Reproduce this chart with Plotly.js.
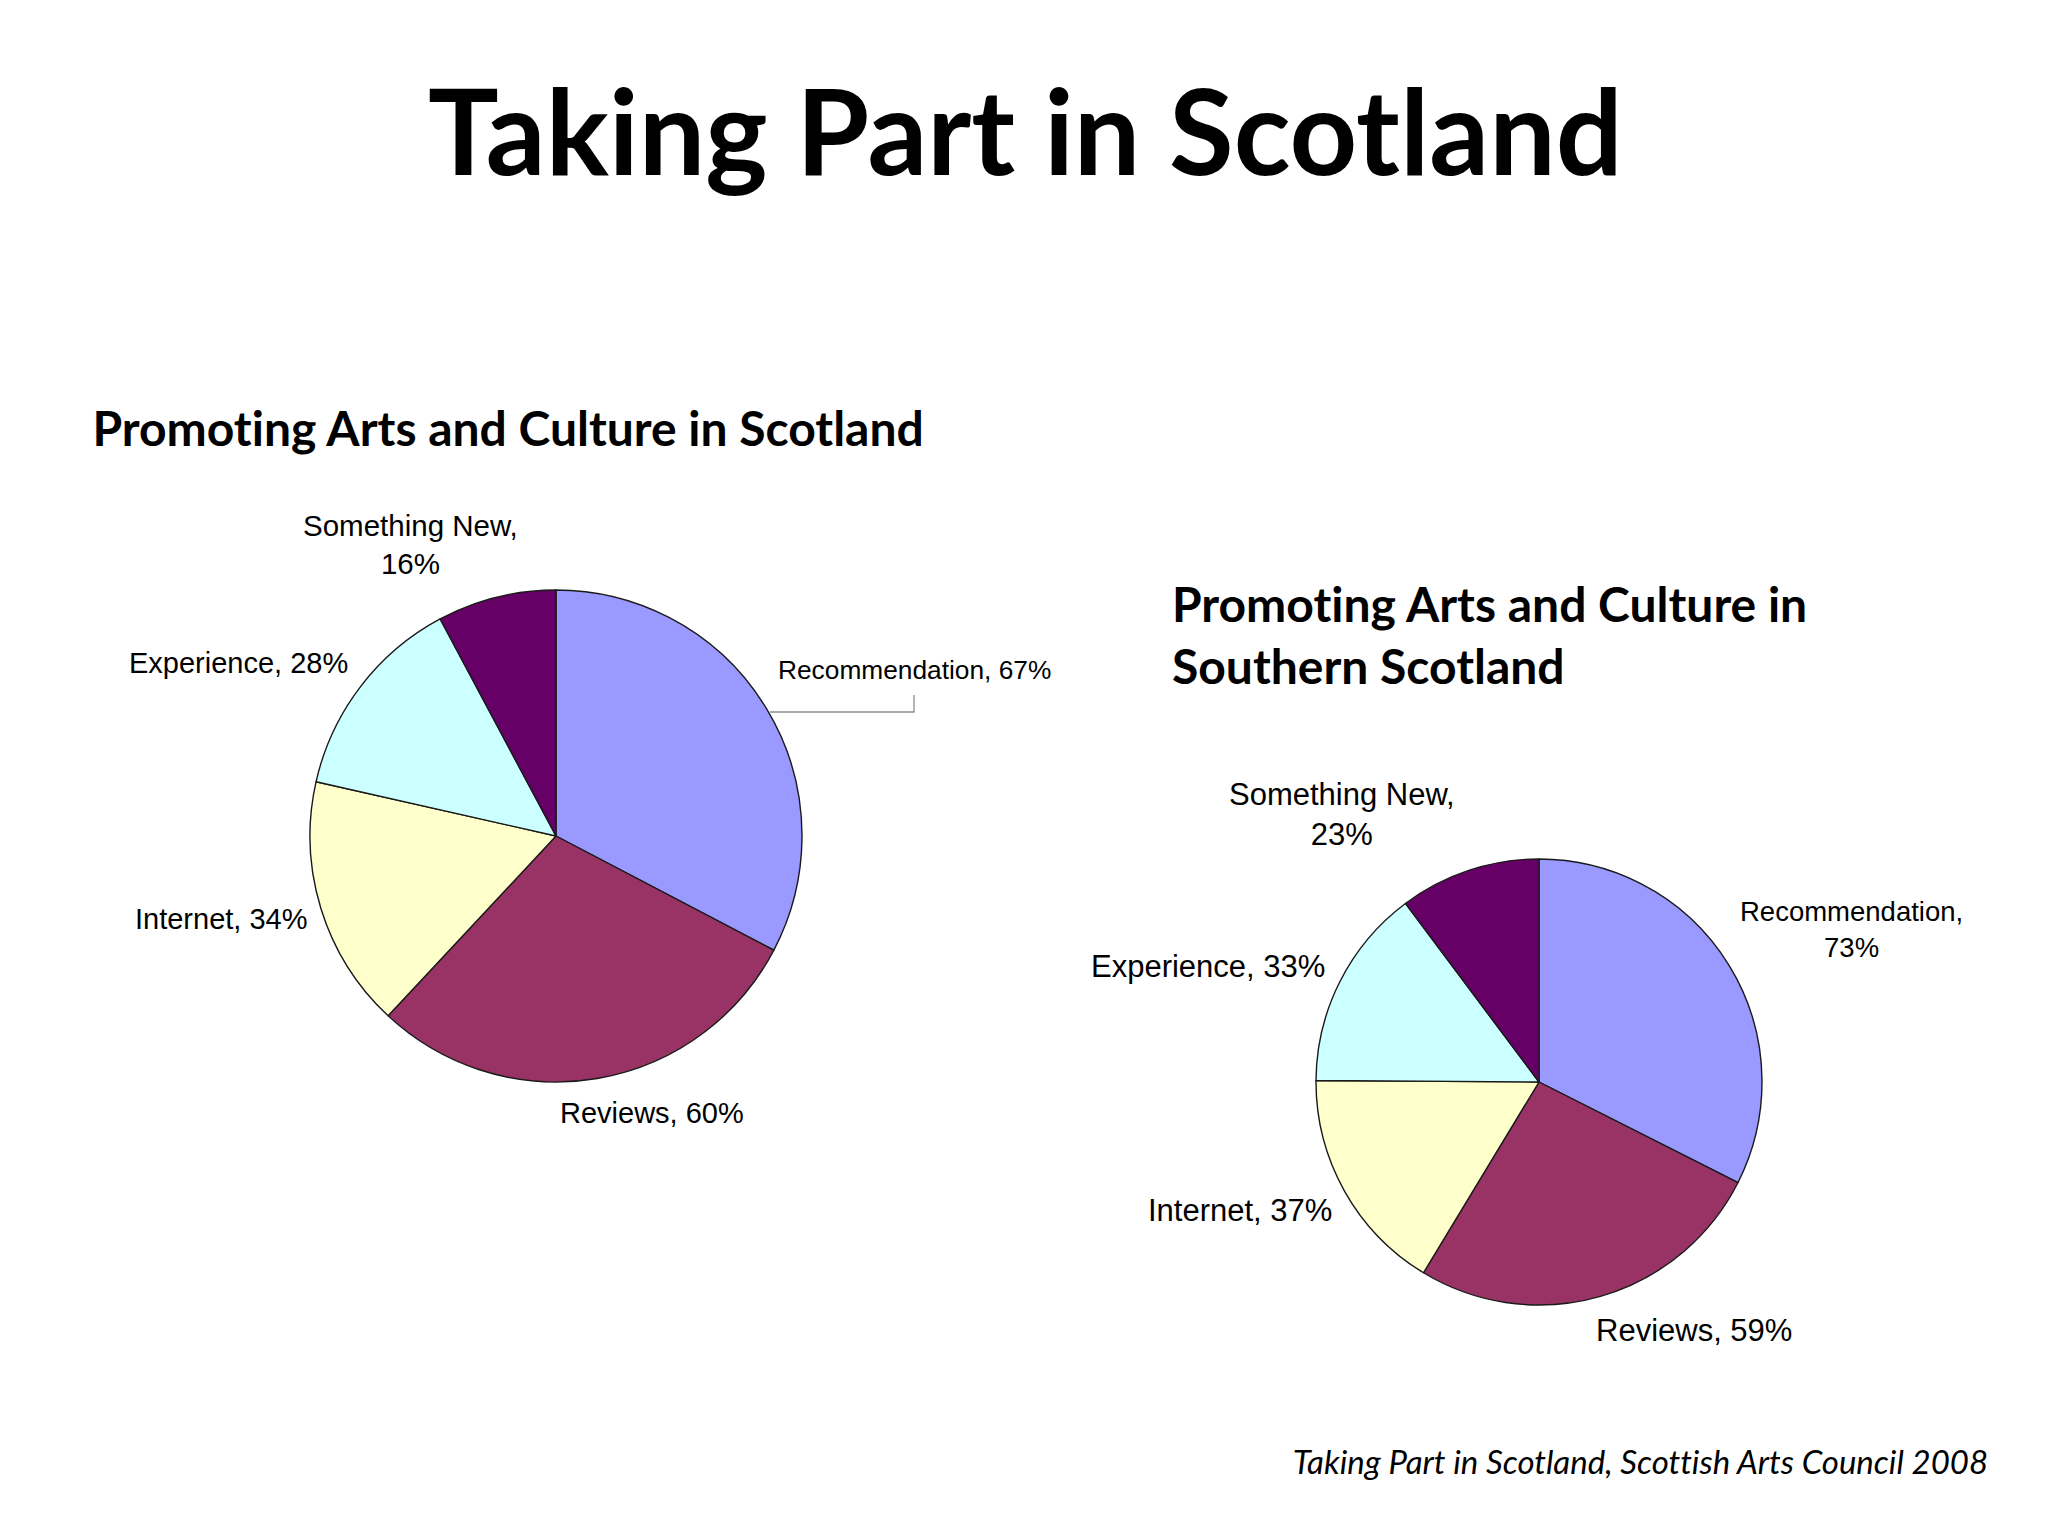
<!DOCTYPE html>
<html>
<head>
<meta charset="utf-8">
<script src="https://cdn.plot.ly/plotly-3.0.1.min.js"></script>
<style>
    html, body { margin: 0; padding: 0; background: #ffffff; }
    #chart { width: 2048px; height: 1536px; }
    #chart svg text, #chart svg tspan {
        font-variant-ligatures: none !important;
        font-feature-settings: "liga" 0, "clig" 0 !important;
    }
</style>
</head>
<body>
<div id="chart"></div>
<script>
const categories = ['Recommendation', 'Reviews', 'Internet', 'Experience', 'Something New'];
const scotlandValues = [67, 60, 34, 28, 16];
const southernValues = [73, 59, 37, 33, 23];
const sliceColors = ['#9999FF', '#993366', '#FFFFCC', '#CCFFFF', '#660066'];

const W = 2048;
const H = 1536;
const px = (x) => x / W;
const py = (y) => 1 - y / H;

// label placement in page pixels: [x, y, anchor, wrap after comma, font size]
const scotlandLabelPos = [
    [914, 670, 'center', false, 26.3],
    [652, 1113, 'center', false, 29],
    [221, 919, 'center', false, 29],
    [238, 663, 'center', false, 29],
    [410, 544, 'center', true, 29.5]
];
const southernLabelPos = [
    [1851, 929, 'center', true, 27.5],
    [1694, 1330, 'center', false, 31],
    [1240, 1210, 'center', false, 31],
    [1208, 966, 'center', false, 31],
    [1342, 814, 'center', true, 31]
];

function pieTrace(values, cx, cy, r) {
    return {
        type: 'pie',
        labels: categories,
        values: values,
        sort: false,
        direction: 'clockwise',
        rotation: 0,
        textinfo: 'none',
        hoverinfo: 'skip',
        showlegend: false,
        marker: {
            colors: sliceColors,
            line: { color: '#1a1a1a', width: 1.4 }
        },
        domain: {
            x: [px(cx - r), px(cx + r)],
            y: [py(cy + r), py(cy - r)]
        }
    };
}

function sliceLabels(values, positions) {
    return values.map((v, i) => {
        const p = positions[i];
        return {
            xref: 'paper', yref: 'paper',
            x: px(p[0]), y: py(p[1]),
            xanchor: p[2], yanchor: 'middle',
            showarrow: false,
            align: 'center',
            text: categories[i] + ',' + (p[3] ? '<br>' : ' ') + v + '%',
            font: { family: 'Liberation Sans, Arial, sans-serif', size: p[4], color: '#000000' }
        };
    });
}

const headFont = 'Lato, "Open Sans", sans-serif';

const titles = [
    {
        x: px(1025), y: py(130), xanchor: 'center', yanchor: 'middle',
        text: '<b>Taking Part in Scotland</b>',
        font: { family: headFont, size: 118, color: '#000000' }
    },
    {
        x: px(90), y: py(427), xanchor: 'left', yanchor: 'middle',
        text: '<b>Promoting Arts and Culture in Scotland</b>',
        font: { family: headFont, size: 48, color: '#000000' }
    },
    {
        x: px(1170), y: py(634), xanchor: 'left', yanchor: 'middle', align: 'left',
        text: '<b>Promoting Arts and Culture in<br>Southern Scotland</b>',
        font: { family: headFont, size: 48, color: '#000000' }
    },
    {
        x: px(1989), y: py(1461), xanchor: 'right', yanchor: 'middle',
        text: '<i>Taking Part in Scotland, Scottish Arts Council 2008</i>',
        font: { family: headFont, size: 33, color: '#000000' }
    }
].map((a) => Object.assign({ xref: 'paper', yref: 'paper', showarrow: false }, a));

const layout = {
    width: W,
    height: H,
    margin: { l: 0, r: 0, t: 0, b: 0 },
    paper_bgcolor: '#ffffff',
    plot_bgcolor: '#ffffff',
    annotations: titles
        .concat(sliceLabels(scotlandValues, scotlandLabelPos))
        .concat(sliceLabels(southernValues, southernLabelPos)),
    shapes: [
        {
            type: 'path', xref: 'paper', yref: 'paper',
            path: 'M ' + px(770) + ',' + py(712) + ' L ' + px(914) + ',' + py(712) + ' L ' + px(914) + ',' + py(695),
            line: { color: '#8c8c8c', width: 1.3 }
        }
    ]
};

const data = [
    pieTrace(scotlandValues, 556, 836, 246),
    pieTrace(southernValues, 1539, 1082, 223)
];

Plotly.newPlot(document.getElementById('chart'), data, layout, { staticPlot: true });
</script>
</body>
</html>
